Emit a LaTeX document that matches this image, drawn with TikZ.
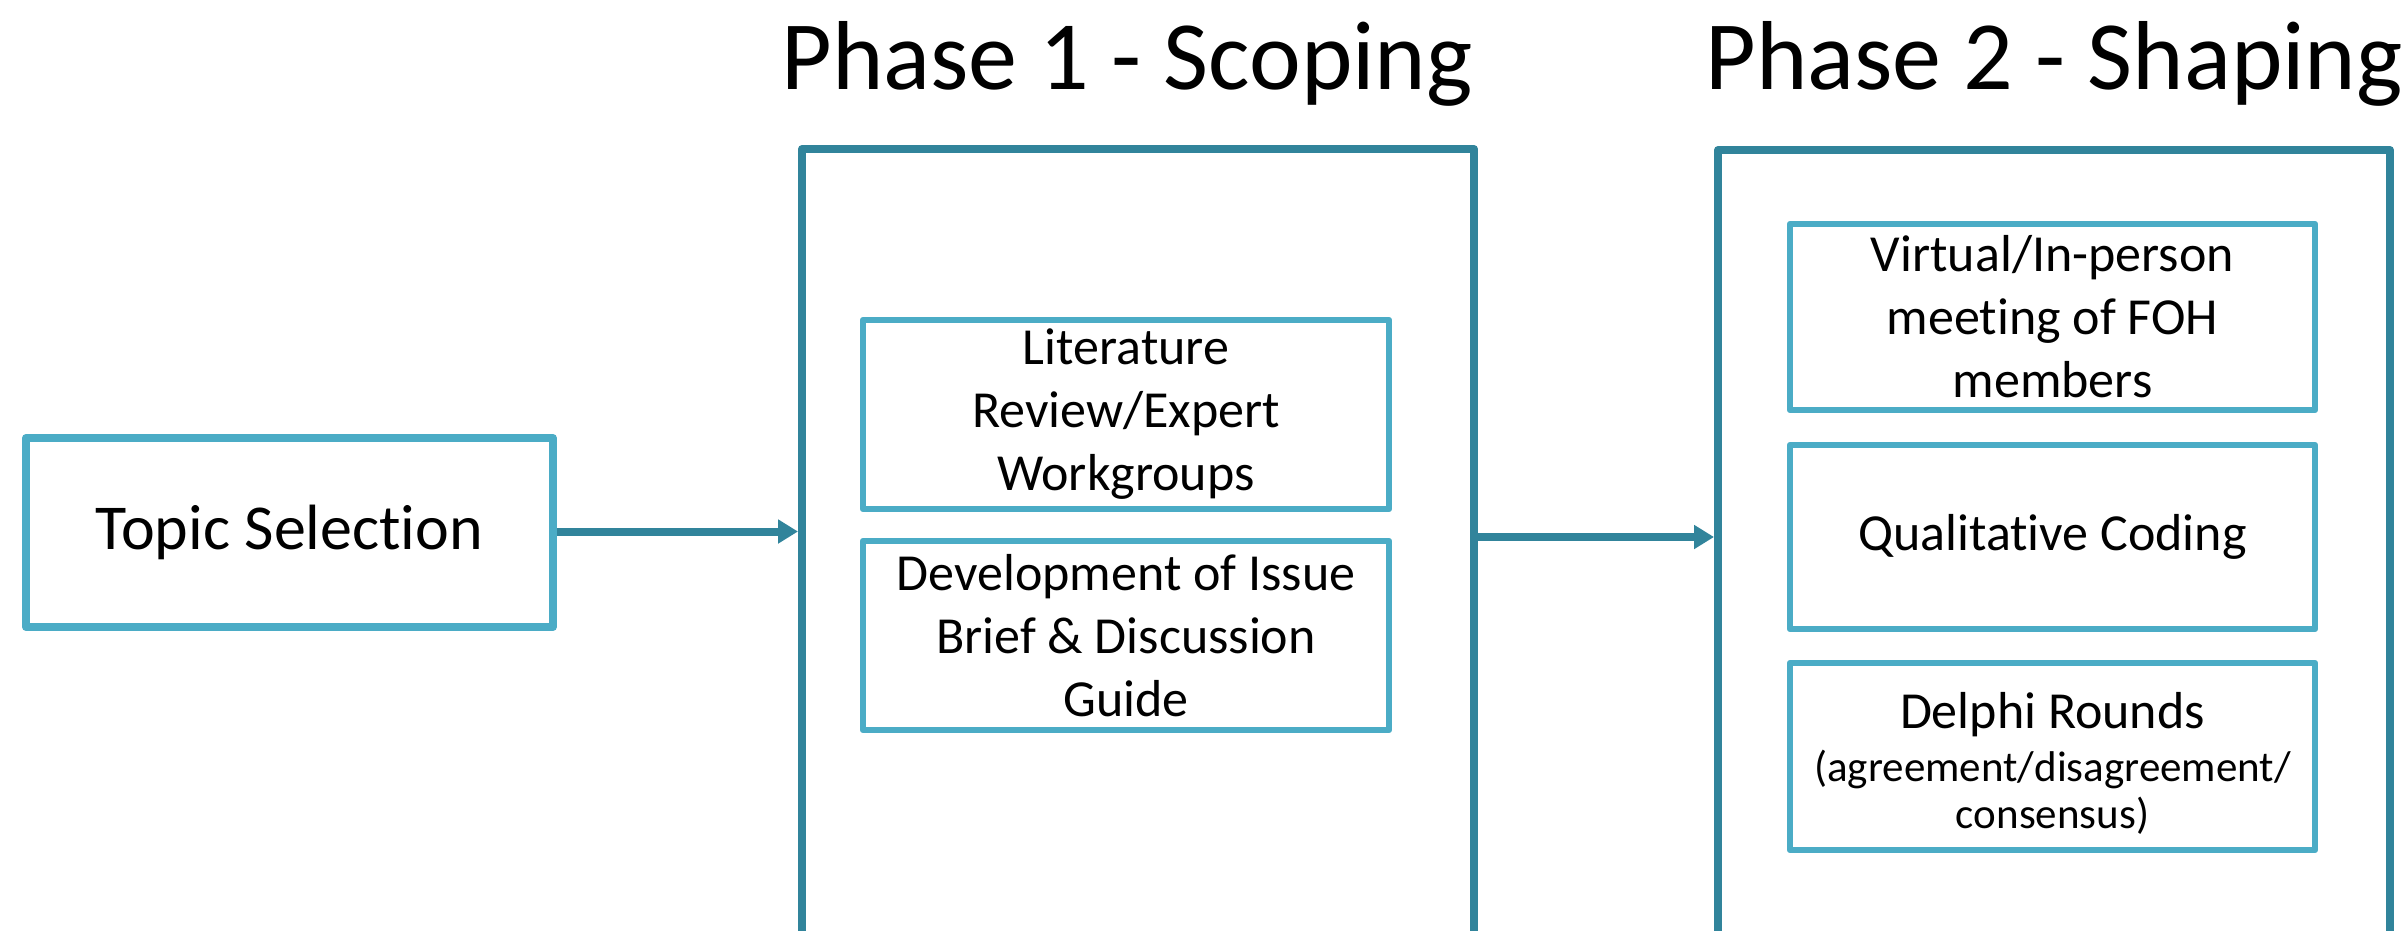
\documentclass[tikz,border=0pt]{standalone}
\usepackage{fontspec}
\setmainfont{Carlito}[Ligatures=NoCommon]
\usetikzlibrary{arrows.meta}

\definecolor{tealdark}{HTML}{31849B}
\definecolor{teallight}{HTML}{4BACC6}

\tikzset{
  phasebox/.style={draw=tealdark, line width=8pt, line join=round, rectangle, inner sep=0pt},
  itembox/.style={draw=teallight, line width=6.3pt, line join=round, rectangle, inner sep=0pt,
                  align=center, font=\fontsize{52}{63}\selectfont},
  startbox/.style={draw=teallight, line width=8pt, line join=round, rectangle, inner sep=0pt,
                   font=\fontsize{64}{76}\selectfont},
  phasetitle/.style={anchor=base, inner sep=0pt, font=\fontsize{98}{110}\selectfont},
  flow/.style={draw=tealdark, line width=8pt,
               -{Triangle[length=20pt,width=23pt]}},
}

\begin{document}
\begin{tikzpicture}[x=1pt, y=-1pt]
  \path[use as bounding box] (0,0) rectangle (2405,930);
  \clip (0,0) rectangle (2405,930);

  % start node
  \node[startbox, minimum width=527pt, minimum height=189pt] (topic) at (289.4,532.5) {Topic Selection};

  % phase containers (running past the lower edge)
  \node[phasebox, minimum width=672pt, minimum height=811pt] (p1) at (1138,554.5) {};
  \node[phasebox, minimum width=672pt, minimum height=811pt] (p2) at (2054,555.5) {};

  % phase titles
  \node[phasetitle] (t1) at (1127,89) {Phase 1 - Scoping};
  \node[phasetitle] (t2) at (2054,89) {Phase 2 - Shaping};

  % phase 1 steps
  \node[itembox, minimum width=526pt, minimum height=189pt] (lit) at (1126,414.5)
    {Literature\\Review/Expert\\Workgroups};
  \node[itembox, minimum width=526pt, minimum height=189pt] (dev) at (1126,635.5)
    {Development of Issue\\Brief \& Discussion\\Guide};

  % phase 2 steps
  \node[itembox, minimum width=525pt, minimum height=186pt] (meet) at (2052.5,317)
    {Virtual/In-person\\meeting of FOH\\members};
  \node[itembox, minimum width=525pt, minimum height=184pt] (code) at (2052.5,537)
    {Qualitative Coding};
  \node[itembox, minimum width=525pt, minimum height=187pt] (delphi) at (2052.5,756.5)
    {\rule{0pt}{50pt}Delphi Rounds\\[-10pt]{\fontsize{43}{50}\selectfont (agreement/disagreement/}\\[-16pt]{\fontsize{43}{50}\selectfont consensus)}};

  % connectors
  \coordinate (m1) at (560,531.5);
  \coordinate (m2) at (1480,537);
  \draw[flow] (m1 -| topic.east) -- (m1 -| p1.west);
  \draw[flow] (m2 -| p1.east) -- (m2 -| p2.west);
\end{tikzpicture}
\end{document}
